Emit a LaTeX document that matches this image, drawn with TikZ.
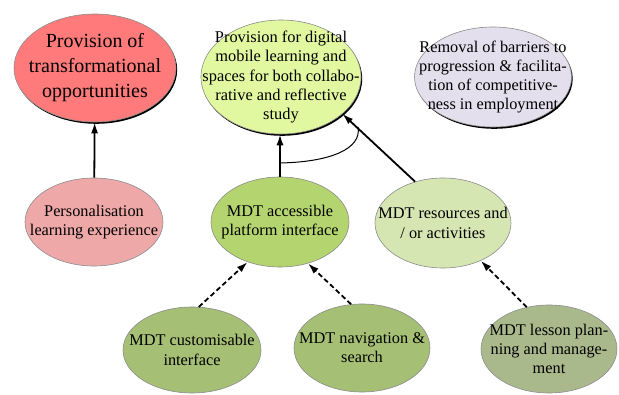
\documentclass[tikz,border=0pt]{standalone}
\usepackage{fontspec}
\setmainfont{Liberation Serif}
\usepackage{tikz}
\usetikzlibrary{calc,shapes,shadows,arrows.meta}
\definecolor{goalred}{HTML}{FF7A7A}
\definecolor{goalyellow}{HTML}{E2F8A0}
\definecolor{goallilac}{HTML}{E4DFEC}
\definecolor{subpink}{HTML}{EFA8A8}
\definecolor{subgreen}{HTML}{B3D46E}
\definecolor{subpale}{HTML}{D6E6B2}
\definecolor{leafgreen}{HTML}{A5BF75}
\definecolor{leafolive}{HTML}{AAB98C}
\tikzstyle{bubble}=[ellipse,draw=black!45,line width=0.6pt,inner sep=-40pt,
                    align=center,font=\fontsize{16.3}{19.2}\selectfont]
\tikzstyle{goal}=[bubble,drop shadow={shadow xshift=1.2pt,shadow yshift=-1.8pt,
                    opacity=1,fill=black}]
\tikzstyle{link}=[line width=1.8pt,-{Latex[length=11pt,width=7pt]}]
\tikzstyle{optlink}=[link,dash pattern=on 5pt off 3pt]
\tikzset{ellsize/.style 2 args={minimum width=#1pt,minimum height=#2pt}}

\begin{document}
\begin{tikzpicture}[x=1pt,y=1pt]
    \useasboundingbox (0,0) rectangle (619,394);
    % goals
    \node [goal,fill=goalred,ellsize={162}{108},font=\fontsize{20}{25}\selectfont]
        (transform) at (95,326) {Provision of\\transformational\\opportunities};
    \node [goal,fill=goalyellow,ellsize={160}{114},font=\fontsize{16.4}{19.3}\selectfont]
        (digital) at (281,317)
        {Provision for digital\\mobile learning and\\spaces for both collabo-\\rative and reflective\\study};
    \node [goal,fill=goallilac,ellsize={157}{100}] (barriers) at (493,317)
        {Removal of barriers to\\progression \& facilita-\\tion of competitive-\\ness in employment};
    % sub-goals
    \node [bubble,fill=subpink,ellsize={138}{88}] (personal) at (94,172)
        {Personalisation\\learning experience};
    \node [bubble,fill=subgreen,ellsize={138}{90}] (platform) at (280,172)
        {MDT accessible\\platform interface};
    \node [bubble,fill=subpale,ellsize={136}{90}] (resources) at (443,171)
        {MDT resources and\\/ or activities};
    % leaves
    \node [bubble,fill=leafgreen,ellsize={138}{86}] (custom) at (192,44)
        {MDT customisable\\interface};
    \node [bubble,fill=leafgreen,ellsize={136}{88}] (navig) at (362,46)
        {MDT navigation \&\\search};
    \node [bubble,fill=leafolive,ellsize={136}{88}] (lesson) at (549,45)
        {MDT lesson plan-\\ning and manage-\\ment};
    % contributions
    \draw [link] (personal) -- (transform);
    \draw [link] (platform.north) -- (platform.north |- digital.south);
    \draw [link] (resources.124) -- (digital.-31);
    \draw [optlink] (custom.81) -- (platform.231);
    \draw [optlink] (navig.104) -- (platform.304);
    \draw [optlink] (lesson.118) -- (resources.-45);
    % and-link between the two arrows into digital
    \coordinate (andL) at (280,231);
    \coordinate (andR) at (358,267);
    \draw [line width=1pt] (andL) .. controls (330,232) and (362,245) .. (andR);
\end{tikzpicture}
\end{document}
